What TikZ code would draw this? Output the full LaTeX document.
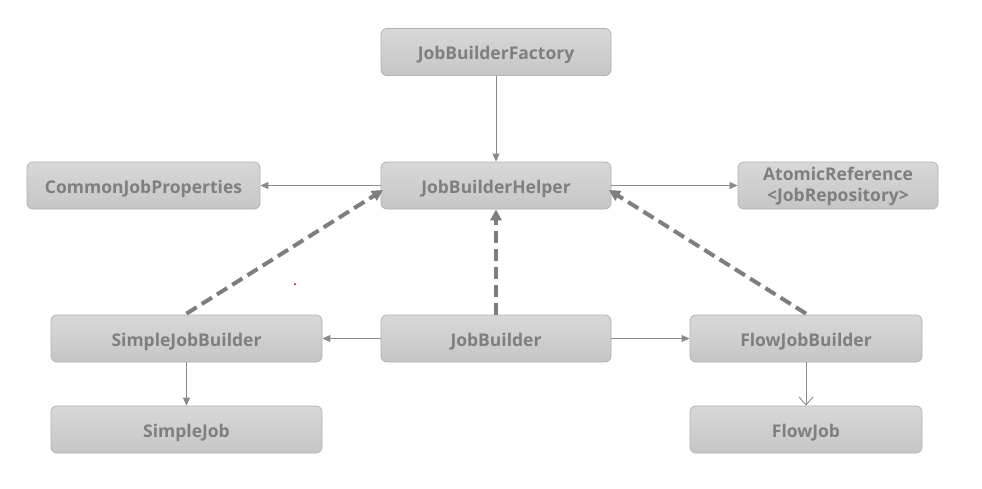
\documentclass[tikz,border=0pt]{standalone}
\usepackage{fontspec}
\setmainfont{Open Sans}
\usetikzlibrary{arrows.meta}
\definecolor{boxtop}{HTML}{D8D8D8}
\definecolor{boxbot}{HTML}{C6C6C6}
\definecolor{boxline}{HTML}{B2B2B2}
\definecolor{txt}{HTML}{7F7F7F}
\definecolor{arr}{HTML}{8A8A8A}
\definecolor{dash}{HTML}{7E7E7E}
\tikzset{
  cls/.style={draw=boxline, line width=0.8pt, rounded corners=6pt, top color=boxtop, bottom color=boxbot,
    minimum height=47pt, inner sep=0pt, align=center, text=txt, text height=17pt, text depth=2pt,
    font=\bfseries\fontsize{17.5}{19}\selectfont},
  rel/.style={draw=arr, line width=0.9pt, -{Triangle[length=8pt,width=7pt]}},
  relopen/.style={draw=arr, line width=0.9pt, -{Straight Barb[length=8pt,width=14pt,line width=0.9pt]}},
  impl/.style={draw=dash, line width=4pt, dash pattern=on 12pt off 6pt, -{Triangle[length=11pt,width=11pt]}}
}
\begin{document}
\begin{tikzpicture}[x=1pt,y=-1pt]
\useasboundingbox (0,0) rectangle (982,488);
\fill[white] (0,0) rectangle (982,488);
\node[cls, minimum width=230pt] (factory) at (496,52) {JobBuilderFactory};
\node[cls, minimum width=230pt] (helper) at (496,185.5) {JobBuilderHelper};
\node[cls, minimum width=233pt] (common) at (143.5,185.5) {CommonJobProperties};
\node[cls, minimum width=200pt, text height=, text depth=, font=\bfseries\fontsize{17.5}{21}\selectfont] (atomic) at (838,185.5) {\rule{0pt}{15pt}AtomicReference\\\textless JobRepository\textgreater};
\node[cls, minimum width=271pt] (sjb) at (186.5,338.5) {SimpleJobBuilder};
\node[cls, minimum width=230pt] (jb) at (496,338.5) {JobBuilder};
\node[cls, minimum width=232pt] (fjb) at (806,338.5) {FlowJobBuilder};
\node[cls, minimum width=271pt] (sj) at (186.5,429.5) {SimpleJob};
\node[cls, minimum width=232pt] (fj) at (806,429.5) {FlowJob};
\coordinate (hl) at (383,190);
\coordinate (hr) at (609,190);
\draw[rel] (factory) -- (helper);
\draw[rel] (helper) -- (common);
\draw[rel] (helper) -- (atomic);
\draw[rel] (jb) -- (sjb);
\draw[rel] (jb) -- (fjb);
\draw[rel] (sjb) -- (sj);
\draw[relopen] (fjb) -- (fj);
\draw[impl] (sjb.north) ++(0,-1) -- (hl);
\draw[impl] (jb.north) -- (helper.south);
\draw[impl] (fjb.north) ++(0,-1) -- (hr);
\fill[red!60!black] (295,284) circle (1pt);
\end{tikzpicture}
\end{document}
